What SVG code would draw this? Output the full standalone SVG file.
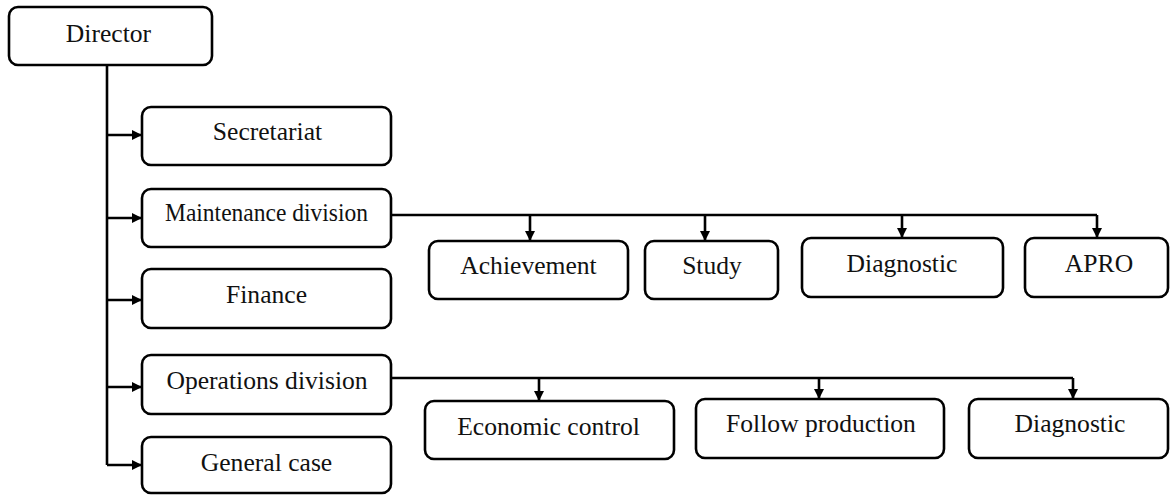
<svg xmlns="http://www.w3.org/2000/svg" width="1170" height="496" viewBox="0 0 1170 496">
<style>
.box{fill:#fff;stroke:#000;stroke-width:2.6}
.ln{fill:none;stroke:#000;stroke-width:2.6}
.lbl{font-family:'Liberation Serif','Times New Roman',serif;font-size:25.6px;text-anchor:middle;fill:#111}
</style>
<defs>
<marker id="ah" markerUnits="userSpaceOnUse" markerWidth="12" markerHeight="12" refX="10" refY="5" orient="auto">
<path d="M0,0 L10,5 L0,10 Z" fill="#000"/>
</marker>
</defs>
<rect width="1170" height="496" fill="#fff"/>
<g id="connectors">
<path class="ln" d="M107,65 V465"/>
<path class="ln" d="M107,135 H142" marker-end="url(#ah)"/>
<path class="ln" d="M107,218 H142" marker-end="url(#ah)"/>
<path class="ln" d="M107,300 H142" marker-end="url(#ah)"/>
<path class="ln" d="M107,387 H142" marker-end="url(#ah)"/>
<path class="ln" d="M107,465 H142" marker-end="url(#ah)"/>
<path class="ln" d="M391,215 H1097"/>
<path class="ln" d="M530,215 V241" marker-end="url(#ah)"/>
<path class="ln" d="M705,215 V241" marker-end="url(#ah)"/>
<path class="ln" d="M902,215 V238" marker-end="url(#ah)"/>
<path class="ln" d="M1097,215 V238" marker-end="url(#ah)"/>
<path class="ln" d="M391,378 H1073"/>
<path class="ln" d="M539,378 V401" marker-end="url(#ah)"/>
<path class="ln" d="M819,378 V399" marker-end="url(#ah)"/>
<path class="ln" d="M1073,378 V399" marker-end="url(#ah)"/>
</g>
<g id="director"><rect class="box" x="9" y="7" width="203" height="58" rx="9"/><text class="lbl" x="108.5" y="42">Director</text></g>
<g id="secretariat"><rect class="box" x="142" y="107" width="249" height="58" rx="9"/><text class="lbl" x="267.5" y="140">Secretariat</text></g>
<g id="maintenance"><rect class="box" x="142" y="189" width="249" height="58" rx="9"/><text class="lbl" x="266.5" y="221" textLength="203" lengthAdjust="spacingAndGlyphs">Maintenance division</text></g>
<g id="finance"><rect class="box" x="142" y="269" width="249" height="59" rx="9"/><text class="lbl" x="266.5" y="303">Finance</text></g>
<g id="operations"><rect class="box" x="142" y="355" width="249" height="59" rx="9"/><text class="lbl" x="267" y="389">Operations division</text></g>
<g id="general"><rect class="box" x="142" y="437" width="249" height="56" rx="9"/><text class="lbl" x="266.5" y="471">General case</text></g>
<g id="achievement"><rect class="box" x="429" y="241" width="199" height="58" rx="9"/><text class="lbl" x="528.5" y="274">Achievement</text></g>
<g id="study"><rect class="box" x="645" y="241" width="133" height="58" rx="9"/><text class="lbl" x="712" y="274">Study</text></g>
<g id="diagnostic1"><rect class="box" x="802" y="238" width="201" height="59" rx="9"/><text class="lbl" x="902" y="272">Diagnostic</text></g>
<g id="apro"><rect class="box" x="1025" y="238" width="143" height="59" rx="9"/><text class="lbl" x="1099" y="272">APRO</text></g>
<g id="economic"><rect class="box" x="425" y="401" width="249" height="58" rx="9"/><text class="lbl" x="548.5" y="435">Economic control</text></g>
<g id="follow"><rect class="box" x="696" y="399" width="248" height="59" rx="9"/><text class="lbl" x="821" y="432">Follow production</text></g>
<g id="diagnostic2"><rect class="box" x="969" y="399" width="199" height="59" rx="9"/><text class="lbl" x="1070" y="432">Diagnostic</text></g>
</svg>
